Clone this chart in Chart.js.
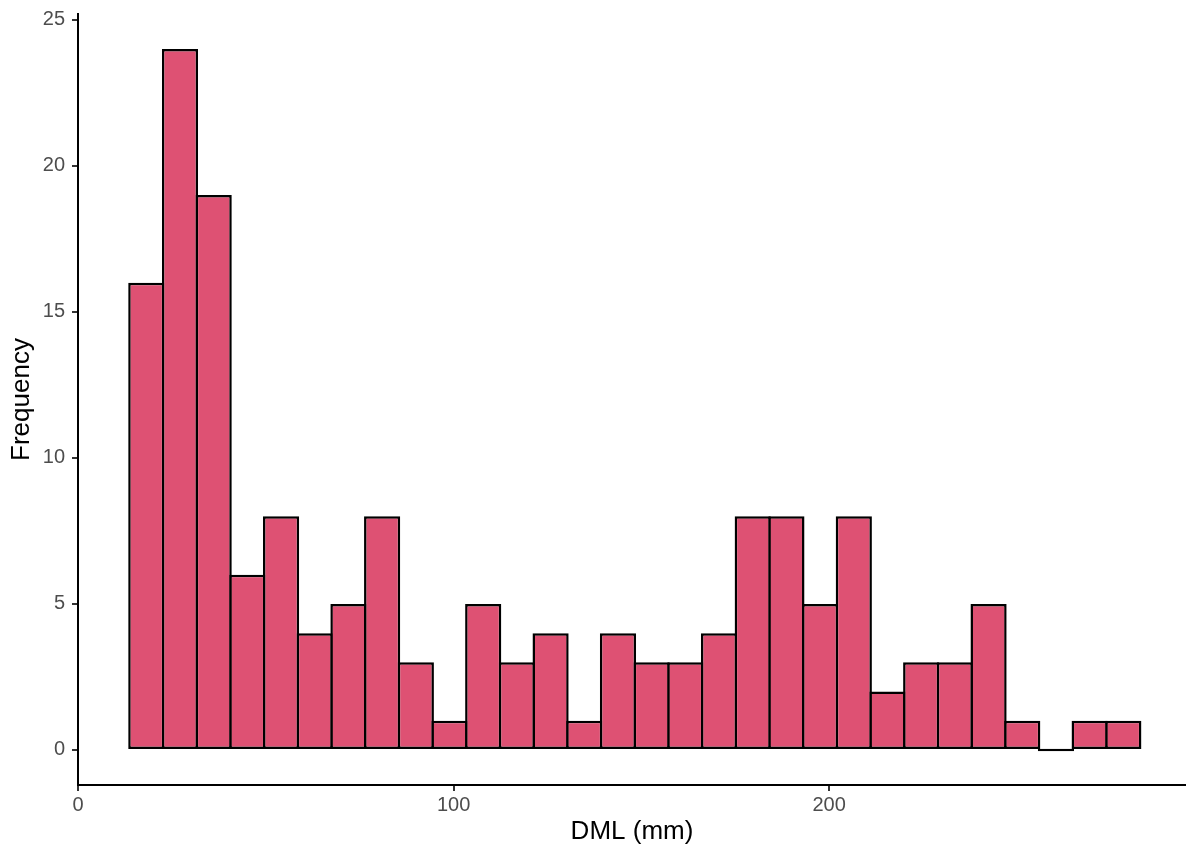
<!DOCTYPE html>
<html lang="en">
<head>
    <meta charset="UTF-8">
    <title>DML histogram</title>
    <script src="https://cdn.jsdelivr.net/npm/chart.js"></script>
    <style>
        html, body { margin: 0; padding: 0; background: #fff; }
        #wrap { width: 1186px; height: 851px; }
    </style>
</head>
<body>
    <div id="wrap"><canvas id="hist" width="1186" height="851"></canvas></div>
    <script>
        // histogram bins (mm) and counts
        const binStart = 13.7;
        const binWidth = 8.97;
        const counts = [16, 24, 19, 6, 8, 4, 5, 8, 3, 1, 5, 3, 4, 1, 4, 3, 3, 4, 8, 8, 5, 8, 2, 3, 3, 5, 1, 0, 1, 1];
        const xTicks = [0, 100, 200];
        const yTicks = [0, 5, 10, 15, 20, 25];

        const points = counts.map((c, i) => ({ x: binStart + binWidth * (i + 0.5), y: c }));

        const tickFont = { family: 'Liberation Sans, Arial, sans-serif', size: 20 };
        const titleFont = { family: 'Liberation Sans, Arial, sans-serif', size: 26 };

        new Chart(document.getElementById('hist').getContext('2d'), {
            type: 'bar',
            data: {
                datasets: [{
                    data: points,
                    backgroundColor: points.map(p => p.y === 0 ? '#000' : '#DE5173'),
                    borderColor: '#000',
                    borderWidth: 2.5,
                    borderSkipped: false,
                    minBarLength: 2.5,
                    barPercentage: 1.074,
                    categoryPercentage: 1
                }]
            },
            options: {
                responsive: false,
                animation: false,
                layout: { padding: { top: 14, right: 0, left: 0, bottom: 0 } },
                plugins: { legend: { display: false }, tooltip: { enabled: false } },
                scales: {
                    x: {
                        type: 'linear',
                        offset: false,
                        min: 0,
                        max: 295,
                        afterBuildTicks: s => { s.ticks = xTicks.map(v => ({ value: v })); },
                        afterFit: s => { s.height = 66; s.paddingLeft = 0; s.paddingRight = 0; },
                        grid: { display: true, offset: false, drawOnChartArea: false, drawTicks: true, tickLength: 6, color: '#333', lineWidth: 2 },
                        border: { display: true, color: '#000', width: 2 },
                        ticks: { color: '#4d4d4d', font: tickFont, padding: 2, maxRotation: 0 },
                        title: { display: true, text: 'DML (mm)', color: '#000', font: titleFont, padding: { top: 0, bottom: 4 } }
                    },
                    y: {
                        min: -1.2,
                        max: 25.2,
                        afterBuildTicks: s => { s.ticks = yTicks.map(v => ({ value: v })); },
                        afterFit: s => { s.width = 78; s.paddingTop = 0; s.paddingBottom = 0; },
                        grid: { display: true, drawOnChartArea: false, drawTicks: true, tickLength: 6, color: '#333', lineWidth: 2 },
                        border: { display: true, color: '#000', width: 2 },
                        ticks: { color: '#4d4d4d', font: tickFont, padding: 7 },
                        title: { display: true, text: 'Frequency', color: '#000', font: titleFont, padding: { top: 6, bottom: 0 } }
                    }
                }
            }
        });
    </script>
</body>
</html>
